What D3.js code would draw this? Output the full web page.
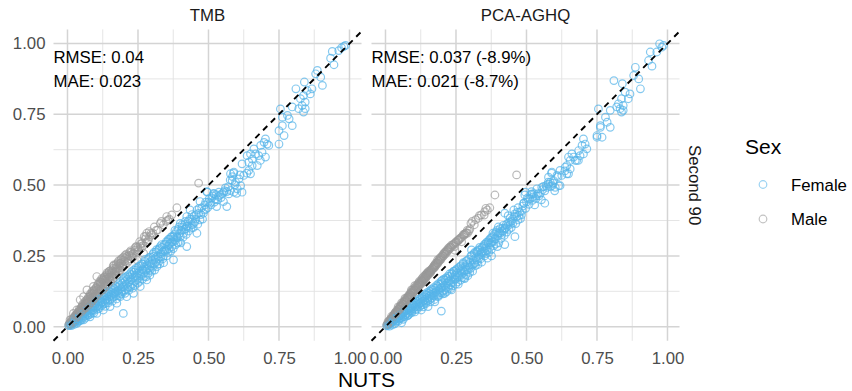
<!DOCTYPE html>
<html><head><meta charset="utf-8">
<script src="https://cdn.jsdelivr.net/npm/d3@7"></script>
<style>body{margin:0;background:#fff}svg{display:block;font-family:"Liberation Sans",Arial,sans-serif}</style>
</head><body>
<svg id="c" width="852" height="391"></svg>
<script>
// ---------- DATA ----------
const panels = ["TMB", "PCA-AGHQ"];
const rowStrip = "Second 90";
const annotations = [
  ["RMSE: 0.04", "MAE: 0.023"],
  ["RMSE: 0.037 (-8.9%)", "MAE: 0.021 (-8.7%)"]
];
const tickValues = [0, 0.25, 0.5, 0.75, 1];
const tickLabels = ["0.00", "0.25", "0.50", "0.75", "1.00"];
const minorTicks = [0.125, 0.375, 0.625, 0.875];
const sexes = ["Female", "Male"];
const xTitle = "NUTS";
const legendTitle = "Sex";

// rows: [NUTS, TMB, PCA-AGHQ]
const female = [
[0.986,0.993,0.993],[0.980,0.990,0.987],[0.972,0.985,0.999],[0.962,0.975,0.970],[0.939,0.972,0.970],
[0.933,0.948,0.940],[0.945,0.925,0.920],[0.886,0.905,0.916],[0.880,0.893,0.887],[0.898,0.881,0.875],
[0.904,0.852,0.840],[0.840,0.864,0.858],[0.810,0.840,0.869],[0.850,0.834,0.828],[0.867,0.840,0.822],
[0.861,0.822,0.805],[0.837,0.816,0.805],[0.826,0.805,0.787],[0.843,0.793,0.781],[0.832,0.781,0.770],
[0.843,0.770,0.764],[0.837,0.758,0.758],[0.820,0.770,0.776],[0.797,0.776,0.764],[0.755,0.769,0.769],
[0.780,0.746,0.740],[0.786,0.734,0.722],[0.762,0.740,0.710],[0.797,0.710,0.704],[0.762,0.710,0.704],
[0.750,0.692,0.675],[0.768,0.675,0.669],[0.702,0.663,0.663],[0.708,0.645,0.645],[0.697,0.651,0.640],
[0.714,0.640,0.628],[0.685,0.640,0.622],[0.750,0.645,0.669],[0.661,0.628,0.610],[0.667,0.610,0.599],
[0.649,0.610,0.599],[0.678,0.604,0.587],[0.690,0.616,0.604],[0.702,0.599,0.610],[0.655,0.592,0.587],
[0.684,0.587,0.587],[0.637,0.604,0.563],[0.643,0.581,0.569],[0.619,0.575,0.552],[0.655,0.569,0.557],
[0.643,0.552,0.540],[0.673,0.569,0.587],[0.649,0.540,0.540],[0.625,0.534,0.534],[0.590,0.546,0.546],
[0.578,0.540,0.528],[0.584,0.516,0.510],[0.596,0.510,0.516],[0.608,0.522,0.534],[0.614,0.498,0.498],
[0.602,0.487,0.492],[0.590,0.475,0.498],[0.578,0.481,0.504],[0.572,0.469,0.492],[0.554,0.475,0.492],
[0.537,0.475,0.487],[0.519,0.469,0.469],[0.496,0.475,0.475],[0.619,0.475,0.498],
[0.005,0.004,0.003],[0.010,0.006,0.007],[0.012,0.010,0.008],[0.015,0.009,0.011],[0.018,0.014,0.012],
[0.020,0.012,0.015],[0.022,0.018,0.016],[0.025,0.016,0.019],[0.028,0.022,0.020],[0.030,0.020,0.024],
[0.033,0.012,0.010],[0.035,0.027,0.026],[0.038,0.024,0.030],[0.040,0.031,0.029],[0.042,0.020,0.022],
[0.045,0.035,0.034],[0.048,0.030,0.028],[0.050,0.038,0.040],[0.052,0.026,0.030],[0.055,0.044,0.041],
[0.057,0.024,0.014],[0.060,0.047,0.045],[0.062,0.038,0.036],[0.065,0.052,0.050],[0.068,0.044,0.035],
[0.070,0.055,0.056],[0.072,0.040,0.042],[0.075,0.060,0.058],[0.078,0.050,0.048],[0.080,0.035,0.040],
[0.082,0.064,0.062],[0.085,0.056,0.054],[0.088,0.070,0.066],[0.090,0.060,0.058],[0.093,0.048,0.050],
[0.095,0.074,0.072],[0.098,0.066,0.064],
[0.014,0.004,0.002],[0.024,0.008,0.006],[0.027,0.030,0.026],[0.032,0.028,0.030],[0.037,0.018,0.016],
[0.043,0.040,0.036],[0.046,0.022,0.020],[0.051,0.046,0.042],[0.056,0.034,0.030],[0.059,0.054,0.050],
[0.063,0.030,0.026],[0.067,0.060,0.056],[0.071,0.048,0.044],[0.074,0.066,0.062],[0.077,0.042,0.038],
[0.081,0.072,0.066],[0.084,0.046,0.044],[0.087,0.078,0.072],[0.091,0.070,0.066],[0.094,0.058,0.055],
[0.097,0.084,0.078],
[0.100,0.080,0.076],[0.104,0.047,0.052],[0.105,0.072,0.070],[0.108,0.086,0.082],[0.110,0.078,0.075],
[0.112,0.065,0.062],[0.115,0.090,0.088],[0.118,0.082,0.080],[0.120,0.096,0.092],[0.122,0.075,0.072],
[0.125,0.088,0.086],[0.127,0.059,0.059],[0.130,0.104,0.100],[0.132,0.094,0.090],[0.135,0.082,0.078],
[0.138,0.110,0.106],[0.140,0.100,0.097],[0.142,0.090,0.086],[0.145,0.116,0.112],[0.148,0.106,0.102],
[0.150,0.096,0.092],[0.151,0.071,0.071],[0.153,0.122,0.118],[0.155,0.112,0.108],[0.158,0.100,0.096],
[0.160,0.128,0.124],[0.162,0.118,0.114],[0.165,0.106,0.102],[0.168,0.134,0.130],[0.170,0.122,0.118],
[0.172,0.110,0.108],[0.175,0.083,0.088],[0.178,0.140,0.136],[0.180,0.128,0.125],[0.182,0.118,0.114],
[0.185,0.146,0.142],[0.187,0.106,0.106],[0.190,0.134,0.130],[0.192,0.124,0.120],[0.195,0.154,0.150],
[0.198,0.047,0.055],[0.200,0.142,0.138],
[0.102,0.090,0.084],[0.107,0.062,0.060],[0.111,0.096,0.090],[0.114,0.072,0.070],[0.117,0.100,0.096],
[0.121,0.086,0.082],[0.124,0.106,0.100],[0.128,0.080,0.076],[0.131,0.112,0.106],[0.134,0.072,0.070],
[0.137,0.096,0.092],[0.141,0.120,0.114],[0.144,0.084,0.082],[0.147,0.126,0.120],[0.152,0.106,0.100],
[0.156,0.132,0.126],[0.159,0.090,0.088],[0.163,0.138,0.132],[0.167,0.116,0.110],[0.171,0.144,0.138],
[0.174,0.098,0.096],[0.177,0.126,0.120],[0.181,0.152,0.146],[0.184,0.110,0.108],[0.188,0.160,0.152],
[0.191,0.116,0.112],[0.194,0.140,0.136],[0.197,0.166,0.160],[0.199,0.124,0.120],
[0.203,0.160,0.155],[0.205,0.130,0.126],[0.208,0.150,0.146],[0.210,0.106,0.118],[0.212,0.168,0.164],
[0.215,0.140,0.136],[0.218,0.158,0.154],[0.220,0.176,0.170],[0.222,0.146,0.142],[0.225,0.165,0.160],
[0.228,0.184,0.178],[0.230,0.150,0.148],[0.232,0.172,0.166],[0.234,0.118,0.130],[0.236,0.192,0.186],
[0.238,0.160,0.156],[0.240,0.180,0.176],[0.243,0.200,0.195],[0.246,0.165,0.165],[0.248,0.188,0.182],
[0.250,0.208,0.200],[0.252,0.172,0.170],[0.255,0.195,0.190],[0.258,0.142,0.150],[0.260,0.215,0.208],
[0.262,0.180,0.176],[0.265,0.202,0.198],[0.268,0.222,0.215],[0.270,0.189,0.185],[0.272,0.210,0.205],
[0.275,0.230,0.222],[0.278,0.196,0.192],[0.281,0.165,0.170],[0.283,0.218,0.212],[0.285,0.238,0.230],
[0.288,0.205,0.200],[0.290,0.226,0.220],[0.293,0.200,0.200],[0.295,0.246,0.238],[0.298,0.214,0.210],
[0.201,0.172,0.164],[0.204,0.118,0.116],[0.207,0.176,0.168],[0.211,0.135,0.130],[0.214,0.180,0.172],
[0.217,0.128,0.124],[0.221,0.186,0.178],[0.224,0.140,0.136],[0.227,0.194,0.186],[0.231,0.136,0.134],
[0.235,0.200,0.190],[0.239,0.146,0.144],[0.242,0.206,0.196],[0.245,0.176,0.170],[0.249,0.154,0.150],
[0.253,0.214,0.204],[0.256,0.160,0.158],[0.259,0.186,0.180],[0.263,0.222,0.212],[0.266,0.168,0.164],
[0.269,0.200,0.194],[0.273,0.178,0.174],[0.276,0.238,0.226],[0.279,0.176,0.172],[0.282,0.206,0.200],
[0.286,0.188,0.184],[0.289,0.244,0.234],[0.292,0.182,0.180],[0.296,0.222,0.216],[0.299,0.196,0.192],
[0.300,0.234,0.228],[0.303,0.256,0.250],[0.305,0.248,0.271],[0.308,0.222,0.218],[0.311,0.242,0.236],
[0.314,0.264,0.258],[0.317,0.212,0.224],[0.320,0.250,0.244],[0.323,0.272,0.264],[0.326,0.232,0.230],
[0.329,0.283,0.271],[0.332,0.258,0.252],[0.335,0.280,0.272],[0.338,0.240,0.240],[0.340,0.248,0.262],
[0.343,0.290,0.280],[0.346,0.266,0.260],[0.350,0.300,0.290],[0.352,0.271,0.268],[0.355,0.284,0.278],
[0.358,0.308,0.298],[0.361,0.290,0.242],[0.364,0.295,0.295],[0.367,0.316,0.306],[0.370,0.282,0.280],
[0.373,0.300,0.296],[0.376,0.318,0.314],[0.376,0.236,0.250],[0.380,0.326,0.318],[0.383,0.305,0.300],
[0.386,0.336,0.326],[0.390,0.314,0.310],[0.393,0.344,0.334],[0.397,0.300,0.283],[0.400,0.318,0.330],
[0.400,0.365,0.352],[0.404,0.340,0.332],[0.408,0.352,0.330],[0.412,0.330,0.325],[0.415,0.360,0.348],
[0.420,0.345,0.340],[0.423,0.389,0.401],[0.423,0.354,0.346],[0.423,0.283,0.290],[0.428,0.372,0.360],
[0.432,0.354,0.354],[0.435,0.412,0.392],[0.440,0.380,0.370],[0.443,0.360,0.362],[0.447,0.365,0.372],
[0.450,0.392,0.380],[0.455,0.380,0.412],[0.459,0.412,0.398],[0.459,0.330,0.318],[0.465,0.400,0.388],
[0.470,0.442,0.420],[0.470,0.377,0.377],[0.476,0.420,0.405],[0.482,0.401,0.395],[0.487,0.430,0.426],
[0.491,0.415,0.436],[0.494,0.477,0.465],[0.500,0.440,0.440],[0.506,0.436,0.450],[0.512,0.455,0.452],
[0.518,0.471,0.477],[0.523,0.450,0.458],[0.529,0.424,0.430],[0.535,0.460,0.462],[0.541,0.465,0.470],
[0.549,0.470,0.471],[0.553,0.442,0.448],[0.560,0.490,0.495],[0.565,0.477,0.480],[0.565,0.424,0.436],
[0.577,0.518,0.510],[0.585,0.530,0.495],[0.589,0.542,0.542],[0.594,0.501,0.507],[0.600,0.471,0.480],
[0.612,0.536,0.530],[0.636,0.542,0.550],
[0.302,0.210,0.206],[0.306,0.262,0.252],[0.309,0.200,0.196],[0.313,0.228,0.222],[0.316,0.272,0.262],
[0.319,0.220,0.216],[0.322,0.240,0.236],[0.325,0.276,0.266],[0.328,0.222,0.220],[0.331,0.246,0.242],
[0.334,0.290,0.280],[0.337,0.264,0.258],[0.341,0.226,0.228],[0.344,0.270,0.266],[0.348,0.292,0.284],
[0.351,0.250,0.250],[0.354,0.300,0.292],[0.357,0.262,0.258],[0.360,0.276,0.270],[0.363,0.310,0.300],
[0.366,0.266,0.262],[0.369,0.298,0.290],[0.372,0.320,0.312],[0.375,0.276,0.272],[0.378,0.308,0.300],
[0.381,0.340,0.330],[0.384,0.290,0.286],[0.388,0.318,0.312],[0.391,0.296,0.292],[0.395,0.352,0.340],
[0.398,0.330,0.322],[0.402,0.296,0.296],[0.406,0.360,0.346],[0.410,0.316,0.312],[0.414,0.344,0.338],
[0.418,0.372,0.358],[0.421,0.326,0.322],[0.426,0.356,0.348],[0.430,0.338,0.334],[0.434,0.380,0.366],
[0.438,0.348,0.344],[0.442,0.396,0.384],[0.446,0.350,0.350],[0.452,0.370,0.366],[0.457,0.396,0.390],
[0.462,0.362,0.364],[0.467,0.418,0.404],[0.473,0.396,0.392],[0.479,0.380,0.382],[0.485,0.412,0.410],
[0.490,0.440,0.436],[0.497,0.420,0.418],[0.503,0.452,0.454],[0.509,0.430,0.432],[0.515,0.462,0.466],
[0.521,0.440,0.446],[0.527,0.466,0.470],[0.533,0.448,0.452],[0.545,0.456,0.462],[0.557,0.480,0.484],
[0.570,0.494,0.498]
];
const male = [
[0.004,0.006,0.006],[0.008,0.012,0.010],[0.009,0.024,0.018],[0.012,0.016,0.018],[0.015,0.020,0.022],
[0.018,0.024,0.026],[0.021,0.047,0.036],[0.022,0.028,0.030],[0.025,0.034,0.034],[0.028,0.036,0.040],
[0.030,0.040,0.042],[0.033,0.059,0.048],[0.035,0.046,0.050],[0.038,0.050,0.052],[0.040,0.054,0.058],
[0.042,0.048,0.052],[0.045,0.095,0.070],[0.047,0.060,0.064],[0.050,0.068,0.070],[0.053,0.064,0.072],
[0.055,0.072,0.076],[0.057,0.106,0.084],[0.060,0.078,0.082],[0.063,0.074,0.080],[0.066,0.084,0.090],
[0.069,0.130,0.100],[0.070,0.090,0.096],[0.073,0.086,0.094],[0.076,0.096,0.102],[0.080,0.106,0.108],
[0.082,0.100,0.106],[0.085,0.110,0.114],[0.088,0.104,0.112],[0.090,0.118,0.122],[0.092,0.142,0.130],
[0.095,0.120,0.128],[0.098,0.114,0.124],[0.100,0.128,0.134],[0.104,0.177,0.145],[0.106,0.132,0.140],
[0.110,0.140,0.146],[0.113,0.134,0.144],[0.116,0.150,0.152],[0.118,0.144,0.154],[0.120,0.156,0.160],
[0.124,0.148,0.158],[0.127,0.165,0.165],[0.130,0.160,0.170],[0.133,0.168,0.174],[0.136,0.158,0.168],
[0.139,0.176,0.180],[0.142,0.168,0.182],[0.145,0.182,0.186],[0.148,0.174,0.190],[0.151,0.177,0.192],
[0.154,0.190,0.196],[0.157,0.180,0.194],[0.160,0.196,0.200],[0.163,0.207,0.200],[0.166,0.192,0.206],
[0.170,0.204,0.212],[0.173,0.198,0.216],[0.175,0.212,0.218],[0.178,0.206,0.224],[0.182,0.220,0.226],
[0.185,0.214,0.236],[0.187,0.224,0.230],[0.190,0.226,0.238],[0.194,0.220,0.244],[0.198,0.234,0.246],
[0.202,0.230,0.252],[0.206,0.242,0.258],[0.210,0.248,0.262],[0.214,0.238,0.266],[0.218,0.252,0.270],
[0.222,0.250,0.276],[0.226,0.262,0.280],[0.230,0.256,0.282],[0.234,0.259,0.288],[0.240,0.270,0.290],
[0.245,0.283,0.283],[0.246,0.236,0.270],[0.250,0.280,0.300],[0.258,0.283,0.305],[0.265,0.295,0.312],
[0.270,0.259,0.300],[0.276,0.310,0.325],[0.281,0.330,0.328],[0.287,0.307,0.332],[0.291,0.318,0.330],
[0.299,0.324,0.345],[0.303,0.330,0.365],[0.315,0.340,0.360],[0.329,0.365,0.383],[0.340,0.360,0.395],
[0.350,0.372,0.394],[0.352,0.389,0.406],[0.356,0.376,0.418],[0.361,0.380,0.412],[0.370,0.395,0.420],
[0.388,0.420,0.465],[0.465,0.507,0.536],
[0.006,0.010,0.008],[0.011,0.008,0.012],[0.014,0.026,0.020],[0.017,0.016,0.020],[0.020,0.030,0.028],
[0.024,0.022,0.028],[0.027,0.040,0.036],[0.031,0.032,0.038],[0.034,0.044,0.044],[0.037,0.036,0.044],
[0.041,0.060,0.054],[0.044,0.050,0.054],[0.048,0.066,0.062],[0.051,0.056,0.062],[0.054,0.080,0.072],
[0.058,0.066,0.072],[0.061,0.088,0.080],[0.064,0.070,0.078],[0.067,0.094,0.088],[0.071,0.080,0.088],
[0.074,0.104,0.094],[0.078,0.088,0.096],[0.081,0.116,0.104],[0.084,0.094,0.104],[0.087,0.124,0.112],
[0.091,0.102,0.112],[0.094,0.130,0.120],[0.097,0.108,0.118],[0.102,0.138,0.128],[0.105,0.118,0.128],
[0.108,0.150,0.136],[0.112,0.124,0.136],[0.115,0.156,0.144],[0.119,0.132,0.146],[0.122,0.166,0.152],
[0.126,0.138,0.152],[0.129,0.172,0.160],[0.132,0.146,0.160],[0.135,0.180,0.166],[0.138,0.150,0.166],
[0.141,0.186,0.174],[0.144,0.160,0.176],[0.147,0.194,0.180],[0.150,0.166,0.182],[0.156,0.200,0.190],
[0.159,0.176,0.190],[0.162,0.214,0.198],[0.168,0.186,0.204],[0.172,0.220,0.208],[0.177,0.194,0.214],
[0.181,0.232,0.220],[0.186,0.200,0.224],[0.192,0.240,0.234],[0.197,0.212,0.238],[0.204,0.252,0.248],
[0.212,0.226,0.256],[0.220,0.262,0.266],[0.228,0.246,0.276],[0.238,0.276,0.286],[0.248,0.264,0.296],
[0.256,0.300,0.304],[0.262,0.278,0.310],[0.272,0.318,0.318],[0.280,0.298,0.326],[0.290,0.336,0.340],
[0.308,0.352,0.372],[0.320,0.342,0.378],[0.333,0.372,0.392],
[0.032,0.044,0.042],[0.036,0.040,0.046],[0.043,0.056,0.056],[0.049,0.052,0.060],[0.052,0.074,0.068],
[0.056,0.060,0.070],[0.062,0.084,0.080],[0.065,0.066,0.080],[0.068,0.082,0.086],[0.072,0.098,0.092],
[0.075,0.076,0.092],[0.079,0.110,0.100],[0.083,0.084,0.100],[0.086,0.118,0.108],[0.089,0.092,0.108],
[0.093,0.126,0.118],[0.096,0.100,0.118],[0.099,0.134,0.126],[0.103,0.110,0.126],[0.107,0.146,0.132],
[0.111,0.118,0.134],[0.114,0.160,0.140],[0.117,0.126,0.140],[0.121,0.170,0.150],[0.125,0.130,0.150],
[0.128,0.152,0.156],[0.131,0.176,0.162],[0.134,0.140,0.162],[0.137,0.168,0.170],[0.140,0.190,0.172],
[0.143,0.150,0.172],[0.146,0.172,0.182],[0.149,0.196,0.184],[0.153,0.160,0.186],[0.158,0.188,0.194],
[0.161,0.170,0.196],[0.165,0.218,0.204],[0.169,0.196,0.208],[0.174,0.182,0.210],[0.179,0.226,0.218],
[0.184,0.196,0.226],[0.189,0.236,0.232],[0.193,0.208,0.236],[0.199,0.246,0.244],[0.205,0.220,0.250],
[0.209,0.256,0.258],[0.216,0.232,0.262],[0.224,0.268,0.272],[0.232,0.244,0.280],[0.242,0.282,0.292],
[0.252,0.270,0.298],[0.260,0.292,0.306],[0.268,0.286,0.314],[0.278,0.320,0.322],[0.285,0.300,0.330],
[0.296,0.330,0.338]
];

// ---------- LAYOUT ----------
const svg = d3.select("#c");
const panelW = 308, panelTop = 29.4, panelBottom = 340.8;
const panelLefts = [53.5, 371.5];
const colors = {Female: "#56B4E9", Male: "#999999"};
const opac = {Female: 0.72, Male: 0.68};
const yScale = d3.scaleLinear().domain([-0.0498, 1.0498]).range([panelBottom, panelTop]);
const FS = 16.8;

// interleave the two groups so neither is entirely drawn on top
const rows = [];
const nMax = Math.max(female.length, male.length);
for (let i = 0; i < nMax; i++) {
  if (i < female.length) rows.push({sex: "Female", v: female[i]});
  if (i < male.length) rows.push({sex: "Male", v: male[i]});
}

panels.forEach((name, pi) => {
  const left = panelLefts[pi];
  const x = d3.scaleLinear().domain([-0.0496, 1.0426]).range([left, left + panelW]);
  const g = svg.append("g");
  g.selectAll(".mx").data(minorTicks).join("line")
    .attr("x1", d => x(d)).attr("x2", d => x(d)).attr("y1", panelTop).attr("y2", panelBottom)
    .attr("stroke", "#e2e2e2").attr("stroke-width", 0.9);
  g.selectAll(".my").data(minorTicks).join("line")
    .attr("y1", d => yScale(d)).attr("y2", d => yScale(d)).attr("x1", left).attr("x2", left + panelW)
    .attr("stroke", "#e2e2e2").attr("stroke-width", 0.9);
  g.selectAll(".Mx").data(tickValues).join("line")
    .attr("x1", d => x(d)).attr("x2", d => x(d)).attr("y1", panelTop).attr("y2", panelBottom)
    .attr("stroke", "#d4d4d4").attr("stroke-width", 1.5);
  g.selectAll(".My").data(tickValues).join("line")
    .attr("y1", d => yScale(d)).attr("y2", d => yScale(d)).attr("x1", left).attr("x2", left + panelW)
    .attr("stroke", "#d4d4d4").attr("stroke-width", 1.5);

  const ax = d3.axisBottom(x).tickValues(tickValues).tickFormat((d, i) => tickLabels[i]).tickSize(0).tickPadding(11);
  const axg = svg.append("g").attr("transform", `translate(0,${panelBottom})`).call(ax);
  axg.select(".domain").remove();
  axg.selectAll("text").attr("font-size", FS).attr("fill", "#4d4d4d").attr("font-family", "Liberation Sans, Arial, sans-serif");

  const col = pi + 1;
  svg.append("g").selectAll("circle").data(rows).join("circle")
    .attr("cx", d => x(d.v[0])).attr("cy", d => yScale(d.v[col])).attr("r", 3.8)
    .attr("fill", "none").attr("stroke", d => colors[d.sex]).attr("stroke-width", 1.2)
    .attr("stroke-opacity", d => opac[d.sex]);

  svg.append("line")
    .attr("x1", x(-0.0496)).attr("y1", yScale(-0.0496))
    .attr("x2", x(1.0426)).attr("y2", yScale(1.0426))
    .attr("stroke", "#000").attr("stroke-width", 1.9).attr("stroke-dasharray", "6,5");

  svg.append("text").attr("x", left + panelW / 2).attr("y", 21).attr("text-anchor", "middle")
    .attr("font-size", FS).attr("fill", "#1a1a1a").text(name);

  annotations[pi].forEach((t, k) => {
    svg.append("text").attr("x", left).attr("y", 63 + k * 24).attr("font-size", FS)
      .attr("fill", "#000").text(t);
  });
});

const ay = d3.axisLeft(yScale).tickValues(tickValues).tickFormat((d, i) => tickLabels[i]).tickSize(0).tickPadding(8);
const ayg = svg.append("g").attr("transform", `translate(${panelLefts[0]},0)`).call(ay);
ayg.select(".domain").remove();
ayg.selectAll("text").attr("font-size", FS).attr("fill", "#4d4d4d").attr("font-family", "Liberation Sans, Arial, sans-serif");

svg.append("text").attr("transform", `translate(689,${(panelTop + panelBottom) / 2}) rotate(90)`)
  .attr("text-anchor", "middle").attr("font-size", FS).attr("fill", "#1a1a1a").text(rowStrip);

svg.append("text").attr("x", (panelLefts[0] + panelLefts[1] + panelW) / 2).attr("y", 387)
  .attr("text-anchor", "middle").attr("font-size", 21).attr("fill", "#000").text(xTitle);

svg.append("text").attr("x", 745).attr("y", 154).attr("font-size", 21).attr("fill", "#000").text(legendTitle);
sexes.forEach((s, i) => {
  const cy = 184.5 + i * 34.5;
  svg.append("circle").attr("cx", 763).attr("cy", cy).attr("r", 3.8).attr("fill", "none")
    .attr("stroke", colors[s]).attr("stroke-width", 1.2).attr("stroke-opacity", 0.6);
  svg.append("text").attr("x", 791).attr("y", cy + 6).attr("font-size", FS).attr("fill", "#000").text(s);
});
</script>
</body></html>
